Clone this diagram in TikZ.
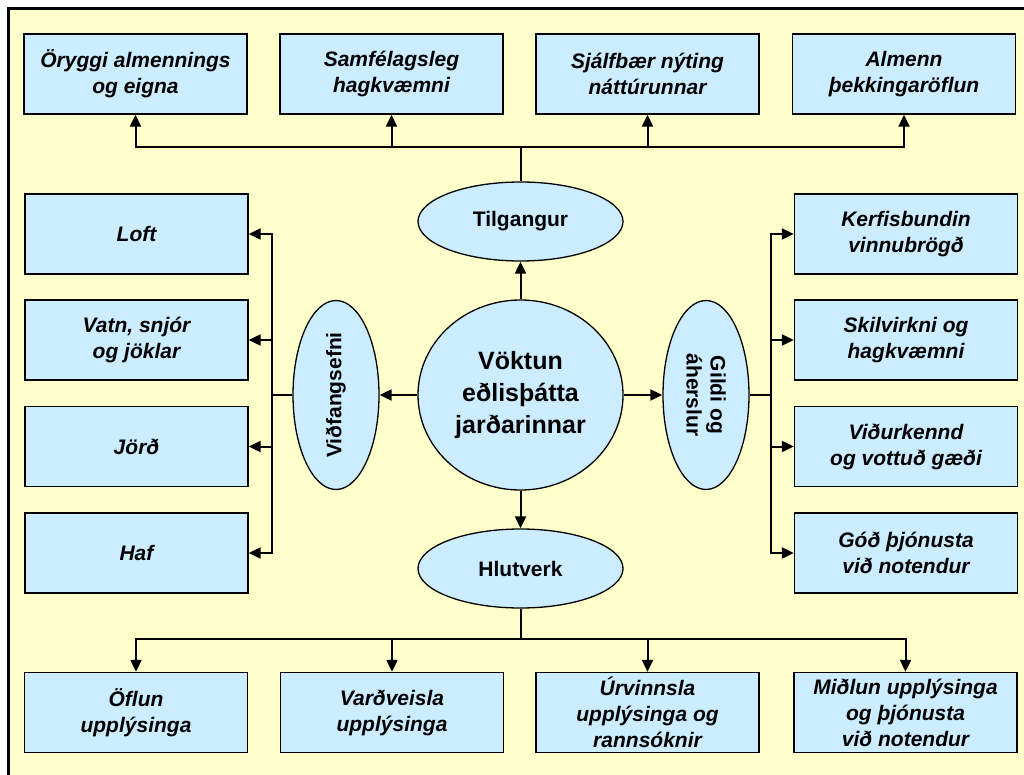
\documentclass[tikz,border=0pt]{standalone}
\usepackage{fontspec}
\setmainfont{Liberation Sans}
\usetikzlibrary{shapes.geometric,arrows.meta}
\definecolor{bgyel}{HTML}{FFFFCC}
\definecolor{boxblue}{HTML}{CCECFF}
\begin{document}
\begin{tikzpicture}[x=1pt,y=-1pt,
 box/.style={draw=black, line width=1.3pt, fill=boxblue, minimum width=223pt, minimum height=80pt, inner sep=0pt, align=center, font=\fontsize{21}{26}\selectfont\bfseries\itshape},
 ell/.style={ellipse, draw=black, line width=1.3pt, fill=boxblue, inner sep=0pt, align=center, font=\fontsize{21}{26}\selectfont\bfseries},
 conn/.style={line width=2pt},
 arr/.style={line width=2pt, -{Triangle[length=12pt,width=11pt]}}]
\useasboundingbox (0,0) rectangle (1024,775);
\clip (0,0) rectangle (1024,775);
\fill[white] (0,0) rectangle (1024,775);
\draw[fill=bgyel, line width=3pt] (8.5,8.5) rectangle (1040,790);

% top boxes
\node[box] (b1) at (135.5,74) {Öryggi almennings\\og eigna};
\node[box] (b2) at (391.5,74) {Samfélagsleg\\hagkvæmni};
\node[box] (b3) at (647.5,74) {Sjálfbær nýting\\náttúrunnar};
\node[box] (b4) at (904,74) {Almenn\\þekkingaröflun};

% left boxes
\node[box] (l1) at (136.5,234) {Loft};
\node[box] (l2) at (136.5,340) {Vatn, snjór\\og jöklar};
\node[box] (l3) at (136.5,446.5) {Jörð};
\node[box] (l4) at (136.5,553) {Haf};

% right boxes
\node[box] (r1) at (906,234) {Kerfisbundin\\vinnubrögð};
\node[box] (r2) at (906,340) {Skilvirkni og\\hagkvæmni};
\node[box] (r3) at (906,446.5) {Viðurkennd\\og vottuð gæði};
\node[box] (r4) at (906,553) {Góð þjónusta\\við notendur};

% bottom boxes
\node[box] (d1) at (136,712.5) {Öflun\\upplýsinga};
\node[box] (d2) at (392,712.5) {Varðveisla\\upplýsinga};
\node[box] (d3) at (647.5,712.5) {Úrvinnsla\\upplýsinga og\\rannsóknir};
\node[box] (d4) at (905.5,712.5) {Miðlun upplýsinga\\og þjónusta\\við notendur};

% ellipses
\node[ell, minimum width=205pt, minimum height=190pt, font=\fontsize{25}{32}\selectfont\bfseries] (c) at (520.5,395) {Vöktun\\eðlisþátta\\jarðarinnar};
\node[ell, minimum width=205pt, minimum height=79pt] (t) at (520.5,221.5) {Tilgangur};
\node[ell, minimum width=205pt, minimum height=79pt] (h) at (520.5,568.5) {Hlutverk};
\node[ell, minimum width=86pt, minimum height=189pt] (v) at (336,395) {};
\node[rotate=90, font=\fontsize{21}{26}\selectfont\bfseries] (vt) at (v.center) {Viðfangsefni};
\node[ell, minimum width=86pt, minimum height=189pt] (g) at (706,395) {};
\node[rotate=-90, align=center, font=\fontsize{21}{24}\selectfont\bfseries] (gt) at (g.center) {Gildi og\\áherslur};

% center connectors
\draw[arr] (c.north) -- (t.south);
\draw[arr] (c.south) -- (h.north);
\draw[arr] (c.west) -- (v.east);
\draw[arr] (c.east) -- (g.west);

% top bus
\coordinate (tb) at (520.5,147);
\draw[conn] (t.north) -- (tb);
\draw[arr] (tb) -| (b1.south);
\draw[arr] (tb) -| (b2.south);
\draw[arr] (tb) -| (b3.south);
\draw[arr] (tb) -| (b4.south);

% bottom bus
\coordinate (hb) at (520.5,639);
\draw[conn] (h.south) -- (hb);
\draw[arr] (hb) -| (d1.north);
\draw[arr] (hb) -| (d2.north);
\draw[arr] (hb) -| (d3.north);
\draw[arr] (hb) -| (d4.north);

% left bus
\coordinate (lb) at (272,395);
\draw[conn] (v.west) -- (lb);
\draw[arr] (lb) |- (l1.east);
\draw[arr] (lb) |- (l2.east);
\draw[arr] (lb) |- (l3.east);
\draw[arr] (lb) |- (l4.east);

% right bus
\coordinate (rb) at (771,395);
\draw[conn] (g.east) -- (rb);
\draw[arr] (rb) |- (r1.west);
\draw[arr] (rb) |- (r2.west);
\draw[arr] (rb) |- (r3.west);
\draw[arr] (rb) |- (r4.west);
\end{tikzpicture}
\end{document}
